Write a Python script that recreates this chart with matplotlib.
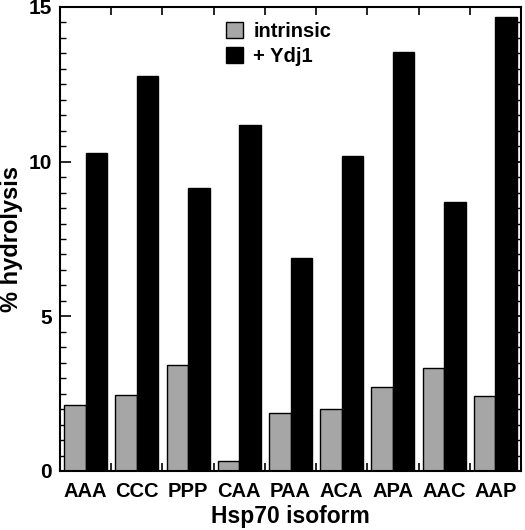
import matplotlib
matplotlib.use("Agg")
import matplotlib.pyplot as plt
from matplotlib.patches import Patch
from matplotlib.ticker import MultipleLocator, FixedLocator
import numpy as np

categories = ["AAA", "CCC", "PPP", "CAA", "PAA", "ACA", "APA", "AAC", "AAP"]
intrinsic = [2.13, 2.47, 3.42, 0.31, 1.88, 2.01, 2.71, 3.33, 2.42]
ydj1 = [10.27, 12.77, 9.14, 11.19, 6.87, 10.19, 13.56, 8.70, 14.69]
series_labels = ["intrinsic", "+ Ydj1"]
yticks = [0, 5, 10, 15]

plt.rcParams['font.family'] = ['Liberation Sans', 'DejaVu Sans']
plt.rcParams['font.weight'] = 'bold'

fig = plt.figure(figsize=(5.25, 5.3), dpi=100)
ax = fig.add_axes([60/525, 59/530, 461/525, 464/530])

x = np.arange(len(categories))
w = 0.42
ax.bar(x - w/2, intrinsic, width=w, color="#a6a6a6", edgecolor="black", linewidth=1.0, zorder=2)
ax.bar(x + w/2, ydj1, width=w, color="black", edgecolor="black", linewidth=1.0, zorder=2)

ax.set_xlim(-0.5, len(categories) - 0.5)
ax.set_ylim(0, 15)

ax.set_xticks(x)
ax.set_xticklabels(categories, fontsize=14.5, fontweight='bold')
ax.tick_params(axis='x', which='major', length=0, pad=8)
ax.xaxis.set_minor_locator(FixedLocator(x[:-1] + 0.5))
ax.tick_params(axis='x', which='minor', direction='in', length=6, width=1.2, top=True, bottom=True)

ax.set_yticks(yticks)
ax.set_yticklabels([str(t) for t in yticks], fontsize=15, fontweight='bold')
ax.yaxis.set_minor_locator(MultipleLocator(0.5))
ax.tick_params(axis='y', which='major', direction='in', length=8, width=1.2, left=True, right=True, pad=6)
ax.tick_params(axis='y', which='minor', direction='in', length=4, width=1.0, left=True, right=True)

for s in ax.spines.values():
    s.set_linewidth(1.5)

ax.set_xlabel("Hsp70 isoform", fontsize=16.5, fontweight='bold', labelpad=3)
ax.set_ylabel("% hydrolysis", fontsize=17, fontweight='bold', labelpad=4)

handles = [Patch(facecolor="#a6a6a6", edgecolor="black", linewidth=1.0),
           Patch(facecolor="black", edgecolor="black")]
leg = ax.legend(handles, series_labels, loc='upper left',
                bbox_to_anchor=((226-60)/461, (471-22)/464), frameon=False,
                prop={'family': 'Liberation Sans', 'weight': 'bold', 'size': 14.5},
                handlelength=0.85, handleheight=0.8, handletextpad=0.5,
                labelspacing=0.3, borderpad=0, borderaxespad=0)

fig.savefig("out.png", dpi=100)
